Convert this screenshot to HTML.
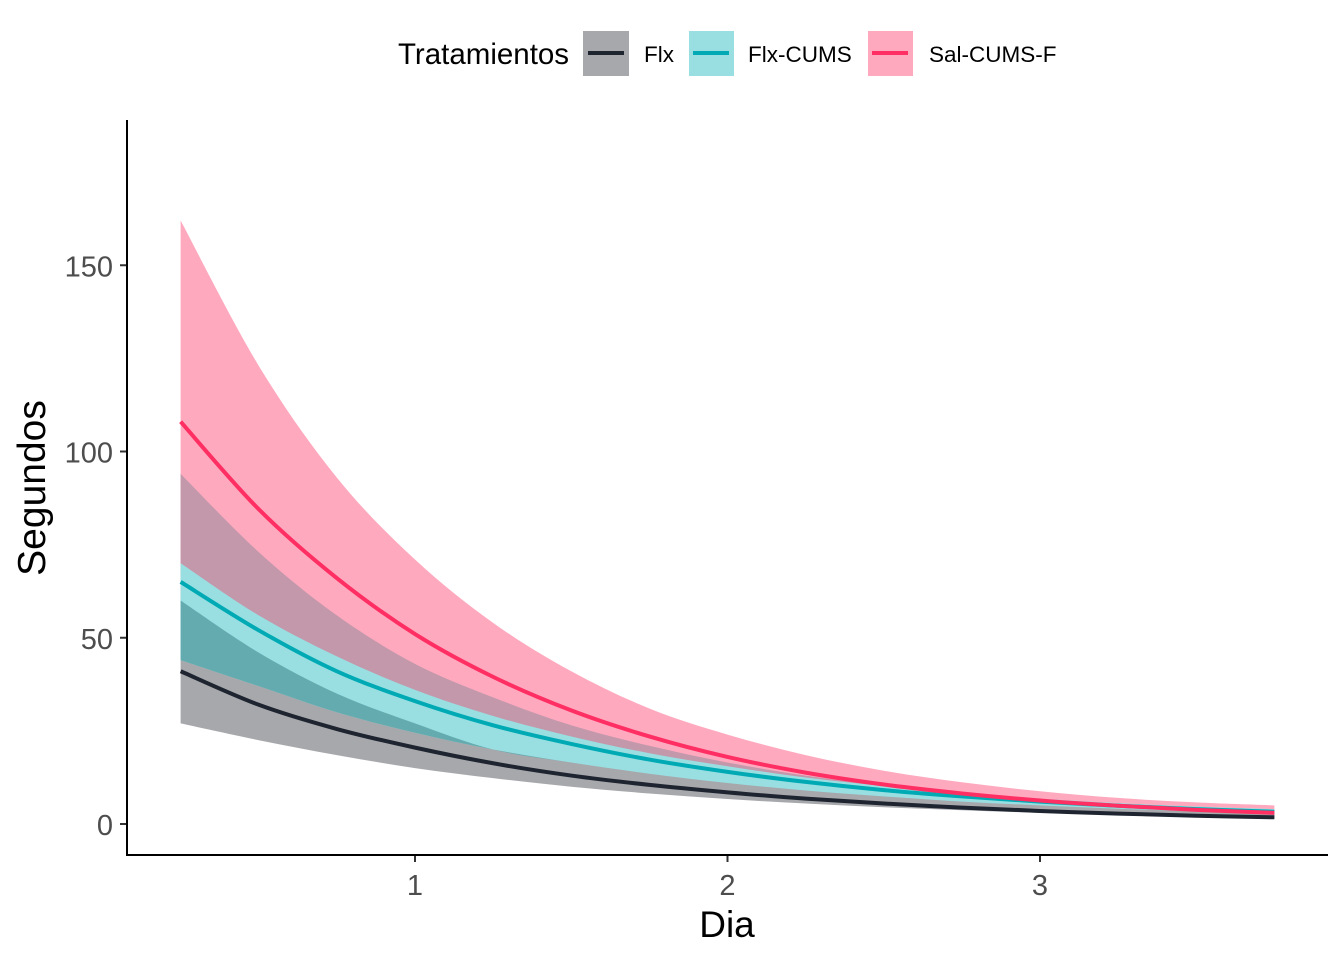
<!DOCTYPE html>
<html><head><meta charset="utf-8"><style>
body{margin:0;background:#fff;}
svg{display:block;font-family:"Liberation Sans",Arial,sans-serif;}
</style></head><body>
<svg id="chart" width="1344" height="960" viewBox="0 0 1344 960">
<g id="ribbons"></g>
<g id="lines"></g>
<g id="axes">
<line x1="127" y1="120" x2="127" y2="856" stroke="#000" stroke-width="2"/>
<line x1="126" y1="855" x2="1328" y2="855" stroke="#000" stroke-width="2"/>
</g>
<text x="727" y="937" font-size="37" text-anchor="middle" fill="#000">Dia</text>
<text transform="translate(45,488) rotate(-90)" font-size="39" text-anchor="middle" fill="#000">Segundos</text>
<g>
<text x="398" y="64" font-size="29.5" fill="#000">Tratamientos</text>
<rect x="583" y="31" width="46" height="45" fill="#a7a8ac"/>
<line x1="588" y1="53" x2="624" y2="53" stroke="#1e2530" stroke-width="4"/>
<text x="644" y="62" font-size="22.5" fill="#000">Flx</text>
<rect x="689" y="31" width="45" height="45" fill="#99dfe2"/>
<line x1="693" y1="53" x2="729" y2="53" stroke="#00aab4" stroke-width="4"/>
<text x="748" y="62" font-size="22.5" fill="#000">Flx-CUMS</text>
<rect x="868" y="31" width="45" height="45" fill="#ffa9bf"/>
<line x1="872" y1="53" x2="908" y2="53" stroke="#ff2e63" stroke-width="4"/>
<text x="929" y="62" font-size="22.5" fill="#000">Sal-CUMS-F</text>
</g>
</svg>
<script>
const days=[0.25,0.5,0.75,1,1.25,1.5,1.75,2,2.25,2.5,2.75,3,3.25,3.5,3.75];
const salHi=[162,123,93,71,54,41,31,24,18.5,14.3,11.2,8.8,7,5.8,5];
const salMid=[108,84.5,66,51,39.5,30.5,23.5,18,13.8,10.6,8.2,6.3,4.9,3.8,3];
const salLo=[69,54,43,34.5,27.5,22,17.5,14,11.2,9,7.2,5.8,4.7,3.8,3.1];
const flxHi=[94,73,56,43,34,26.5,21,16.5,13,10.3,8.2,6.6,5.3,4.3,3.6];
const flxMid=[41,32,25.5,20.5,16.3,13,10.5,8.5,6.8,5.5,4.4,3.5,2.8,2.2,1.8];
const flxLo=[27,22.5,18.5,15,12.3,10,8.2,6.7,5.5,4.5,3.7,3,2.4,2,1.6];
const cumsHi=[70,56,45,36,29,23.5,19,15.5,12.5,10.2,8.3,6.8,5.6,4.7,4];
const cumsMid=[65,52,41,33,26.5,21.5,17.3,14,11.3,9.1,7.4,6,4.9,4,3.3];
const cumsLo=[44,37,30,24.5,20,16.5,13.5,11,9,7.4,6,5,4.1,3.4,2.8];
const overlapTop=[60,46,35,27,20,15,12,9.5,7.7,6.2,5,4.1,3.3,2.7,2.2];
const xTicks=[1,2,3];
const yTicks=[0,50,100,150];

const NS="http://www.w3.org/2000/svg";
const sx=d=>415+(d-1)*312.5;
const sy=v=>824-v*3.725;
const axes=document.getElementById('axes');

function pts(arr){return days.map((d,i)=>[sx(d),sy(arr[i])]);}
function curve(p,move){
  let s=(move?"M":"L")+p[0][0].toFixed(2)+","+p[0][1].toFixed(2);
  for(let i=0;i<p.length-1;i++){
    const p0=p[i-1]||p[i],p1=p[i],p2=p[i+1],p3=p[i+2]||p[i+1];
    const c1=[p1[0]+(p2[0]-p0[0])/6,p1[1]+(p2[1]-p0[1])/6];
    const c2=[p2[0]-(p3[0]-p1[0])/6,p2[1]-(p3[1]-p1[1])/6];
    s+="C"+c1.map(n=>n.toFixed(2))+" "+c2.map(n=>n.toFixed(2))+" "+p2[0].toFixed(2)+","+p2[1].toFixed(2);
  }
  return s;
}
function band(lo,hi){
  const up=pts(hi), dn=pts(lo).reverse();
  return curve(up,true)+curve(dn,false)+"Z";
}
const rib=document.getElementById('ribbons');
function addBand(lo,hi,color,name){
  const p=document.createElementNS(NS,'path');
  p.setAttribute('d',band(lo,hi));
  p.setAttribute('fill',color);
  
  
  rib.appendChild(p);
}
addBand(flxLo,flxHi,'#a7a8ac','ribbon-flx');
addBand(salLo,salHi,'#ffa9bf','ribbon-sal-cums-f');
addBand(salLo,flxHi.map((v,i)=>Math.max(v,salLo[i])),'#c398ab','ribbon-overlap-flx-sal');
addBand(cumsLo,cumsHi,'#99dfe2','ribbon-flx-cums');
addBand(cumsLo,overlapTop.map((v,i)=>Math.max(v,cumsLo[i])),'#64abb0','ribbon-overlap-flx-cums');

const lg=document.getElementById('lines');
function addLine(arr,color,name){
  const p=document.createElementNS(NS,'path');
  p.setAttribute('d',curve(pts(arr),true));
  p.setAttribute('fill','none');
  p.setAttribute('stroke',color);
  p.setAttribute('stroke-width','4');
  
  
  lg.appendChild(p);
}
addLine(flxMid,'#1e2530','line-flx');
addLine(cumsMid,'#00aab4','line-flx-cums');
addLine(salMid,'#ff2e63','line-sal-cums-f');

xTicks.forEach(t=>{
  const l=document.createElementNS(NS,'line');
  l.setAttribute('x1',sx(t));l.setAttribute('x2',sx(t));
  l.setAttribute('y1',856);l.setAttribute('y2',862);
  l.setAttribute('stroke','#333');l.setAttribute('stroke-width','2');
  
  
  axes.appendChild(l);
  const tx=document.createElementNS(NS,'text');
  tx.setAttribute('x',sx(t));tx.setAttribute('y',895);
  tx.setAttribute('font-size','29');tx.setAttribute('fill','#4d4d4d');
  tx.setAttribute('text-anchor','middle');
  
  
  tx.textContent=t;
  axes.appendChild(tx);
});
yTicks.forEach(t=>{
  const l=document.createElementNS(NS,'line');
  l.setAttribute('x1',120);l.setAttribute('x2',126);
  l.setAttribute('y1',sy(t));l.setAttribute('y2',sy(t));
  l.setAttribute('stroke','#333');l.setAttribute('stroke-width','2');
  
  
  axes.appendChild(l);
  const tx=document.createElementNS(NS,'text');
  tx.setAttribute('x',113);tx.setAttribute('y',sy(t)+11);
  tx.setAttribute('font-size','29');tx.setAttribute('fill','#4d4d4d');
  tx.setAttribute('text-anchor','end');
  
  
  tx.textContent=t;
  axes.appendChild(tx);
});
</script>
</body></html>
